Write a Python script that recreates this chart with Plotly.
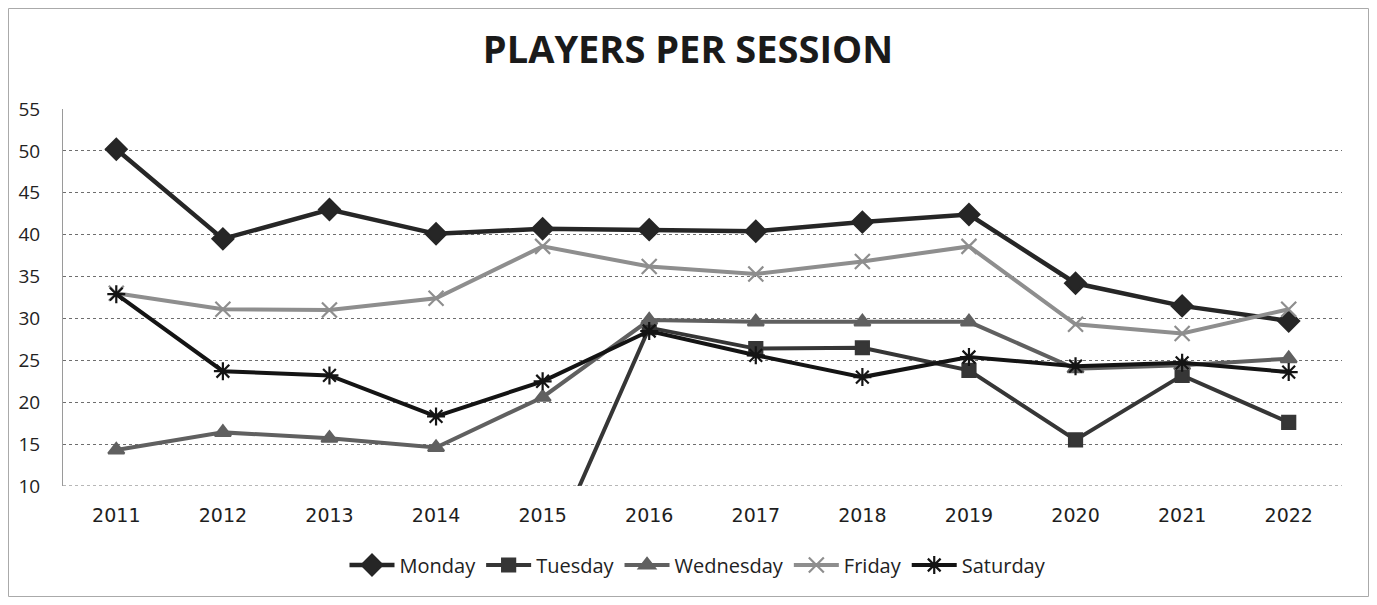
import plotly.graph_objects as go

years = ["2011", "2012", "2013", "2014", "2015", "2016", "2017", "2018", "2019", "2020", "2021", "2022"]
monday = [50.2, 39.5, 43.0, 40.1, 40.7, 40.6, 40.4, 41.5, 42.4, 34.2, 31.5, 29.7]
tuesday = [0, 0, 0, 0, 0, 28.9, 26.4, 26.5, 23.8, 15.5, 23.2, 17.6]
wednesday = [14.3, 16.4, 15.7, 14.6, 20.6, 29.8, 29.6, 29.6, 29.6, 24.0, 24.4, 25.2]
friday = [33.0, 31.1, 31.0, 32.4, 38.6, 36.2, 35.3, 36.8, 38.6, 29.3, 28.2, 31.1]
saturday = [32.9, 23.7, 23.2, 18.3, 22.5, 28.5, 25.6, 23.0, 25.4, 24.3, 24.7, 23.6]

series = [
    ("Monday", monday, "#262626", "diamond", 16, 4.5),
    ("Tuesday", tuesday, "#363636", "square", 13, 4),
    ("Wednesday", wednesday, "#606060", "triangle-up", 14, 4),
    ("Friday", friday, "#8e8e8e", "x-thin-open", 15, 4),
    ("Saturday", saturday, "#141414", "asterisk-open", 15, 4),
]

W, H = 1361, 589
L, T = 55, 101
PW, PH = 1279, 377

fig = go.Figure()
for name, vals, color, sym, size, lw in series:
    fig.add_trace(go.Scatter(
        x=years, y=vals, name=name, mode="lines+markers",
        line=dict(color=color, width=lw),
        marker=dict(symbol=sym, size=size, color=color,
                    line=dict(color=color, width=2.2)),
    ))

fig.update_layout(
    width=W, height=H,
    paper_bgcolor="white", plot_bgcolor="white",
    margin=dict(l=L, r=W - L - PW, t=T, b=H - T - PH, autoexpand=False),
    title=dict(text="<b>PLAYERS PER SESSION</b>", x=(680 - L) / PW, xref="paper",
               xanchor="center", y=1 - 42 / H, yanchor="middle",
               font=dict(family="Open Sans", size=38, color="#1a1a1a")),
    font=dict(family="Open Sans", color="#222222"),
    xaxis=dict(type="category", range=[-0.5, 11.5], showgrid=False, showline=False,
               ticks="", tickfont=dict(family="DejaVu Sans", size=19, color="#1e1e1e"),
               ticklabelstandoff=16),
    yaxis=dict(range=[10, 55], dtick=5, showgrid=True, gridcolor="#6e6e6e",
               griddash="dot", gridwidth=1, zeroline=False,
               showline=True, linecolor="#9a9a9a", linewidth=1, ticks="",
               tickfont=dict(family="Open Sans", size=19, color="#222222"),
               ticklabelstandoff=18),
    legend=dict(orientation="h", x=(690 - L) / PW, xanchor="center",
                y=(PH - (557 - T)) / PH, yanchor="middle",
                font=dict(family="Open Sans", size=20, color="#222222"),
                itemwidth=45),
    showlegend=True,
)
fig.add_shape(type="line", xref="paper", yref="y", x0=0, x1=1, y0=10, y1=10,
              line=dict(color="#6e6e6e", width=1, dash="dot"))
fig.add_shape(type="rect", xref="paper", yref="paper",
              x0=(0.5 - L) / PW, x1=(W - 0.5 - L) / PW,
              y0=(PH - (H - 0.5 - T)) / PH, y1=(PH - (0.5 - T)) / PH,
              line=dict(color="#aaaaaa", width=1))

fig.write_html("out.html")
